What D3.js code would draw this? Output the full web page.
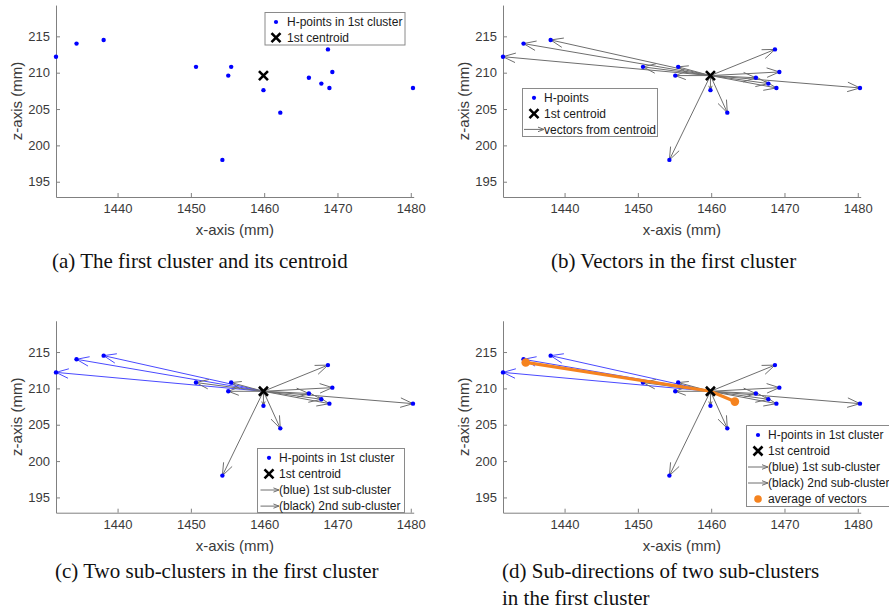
<!DOCTYPE html>
<html><head><meta charset="utf-8">
<script src="https://cdn.jsdelivr.net/npm/d3@7"></script>
<style>body{margin:0;background:#fff} svg{display:block}</style>
</head><body>
<svg id="c" width="889" height="611"></svg>
<script>
// ---------- data ----------
const xTicks = [1440, 1450, 1460, 1470, 1480];
const zTicks = [195, 200, 205, 210, 215];
const xDomain = [1431.6, 1480.4];
const zDomain = [192.9, 219.3];
const hX = [1431.6, 1434.4, 1438.1, 1450.7, 1455.5, 1455.1, 1459.9, 1462.2, 1454.3, 1466.1, 1467.8, 1468.7, 1469.3, 1468.9, 1480.3];
const hZ = [212.2, 214.0, 214.5, 210.8, 210.8, 209.6, 207.6, 204.5, 198.0, 209.3, 208.5, 213.2, 210.1, 207.9, 207.9];
const subCluster = [1, 1, 1, 2, 2, 2, 2, 2, 2, 2, 2, 2, 2, 2, 2];
const centroidX = [1459.9];
const centroidZ = [209.6];
const captionA = ["(a) The first cluster and its centroid"];
const captionB = ["(b) Vectors in the first cluster"];
const captionC = ["(c) Two sub-clusters in the first cluster"];
const captionD = ["(d) Sub-directions of two sub-clusters", "in the first cluster"];
const legendA = ["H-points in 1st cluster", "1st centroid"];
const legendB = ["H-points", "1st centroid", "vectors from centroid"];
const legendC = ["H-points in 1st cluster", "1st centroid", "(blue) 1st sub-cluster", "(black) 2nd sub-cluster"];
const legendD = ["H-points in 1st cluster", "1st centroid", "(blue) 1st sub-cluster", "(black) 2nd sub-cluster", "average of vectors"];

// ---------- style ----------
const SANS = "'Liberation Sans', Arial, Helvetica, sans-serif";
const SERIF = "'Liberation Serif', 'Times New Roman', serif";
const AXIS_C = "#808080", TEXT_C = "#3a3a3a";
const GRAY_V = "#6e6e6e", BLUE_V = "#4a4aff", DOT_C = "#0000ff", ORANGE = "#f5831f";

const svg = d3.select("#c");
svg.append("rect").attr("width", 889).attr("height", 611).attr("fill", "#fff");

const points = hX.map((x, i) => ({x, z: hZ[i], c: subCluster[i]}));
const centroid = {x: centroidX[0], z: centroidZ[0]};

function arrow(g, x1, y1, x2, y2, color, maxHead) {
  const dx = x2 - x1, dy = y2 - y1, len = Math.hypot(dx, dy);
  if (len < 0.5) return;
  const ux = dx / len, uy = dy / len;
  const h = Math.min(maxHead, 0.3 * len), w = h * 0.38;
  g.append("line").attr("x1", x1).attr("y1", y1).attr("x2", x2).attr("y2", y2)
    .attr("stroke", color).attr("stroke-width", 1);
  const bx = x2 - h * ux, by = y2 - h * uy;
  g.append("path")
    .attr("d", `M${bx - w * uy},${by + w * ux}L${x2},${y2}L${bx + w * uy},${by - w * ux}`)
    .attr("fill", "none").attr("stroke", color).attr("stroke-width", 1);
}

function cross(g, cx, cy, s, sw) {
  g.append("path").attr("d", `M${cx - s},${cy - s}L${cx + s},${cy + s}M${cx - s},${cy + s}L${cx + s},${cy - s}`)
    .attr("stroke", "#000").attr("stroke-width", sw).attr("fill", "none");
}

function panel(cfg) {
  const {left, bottom, mode} = cfg;
  const kx = 7.33, ky = 7.27;
  const x = d3.scaleLinear().domain(xDomain).range([left, left + (xDomain[1] - xDomain[0]) * kx]);
  const y = d3.scaleLinear().domain(zDomain).range([bottom, bottom - (zDomain[1] - zDomain[0]) * ky]);
  const g = svg.append("g");

  // axes
  const gx = g.append("g").attr("transform", `translate(0,${bottom})`)
    .call(d3.axisBottom(x).tickValues(xTicks).tickSize(-4).tickSizeOuter(0).tickPadding(7).tickFormat(d3.format("d")));
  const gy = g.append("g").attr("transform", `translate(${left},0)`)
    .call(d3.axisLeft(y).tickValues(zTicks).tickSize(-4).tickSizeOuter(0).tickPadding(6).tickFormat(d3.format("d")));
  [gx, gy].forEach(a => {
    a.select(".domain").attr("stroke", AXIS_C);
    a.selectAll(".tick line").attr("stroke", AXIS_C);
    a.selectAll(".tick text").attr("fill", TEXT_C).style("font-family", SANS).style("font-size", "13px");
  });
  const [x0, x1] = x.range(), [y0, y1] = y.range();
  g.append("text").attr("x", (x0 + x1) / 2).attr("y", bottom + 38).attr("text-anchor", "middle")
    .attr("fill", TEXT_C).style("font-family", SANS).style("font-size", "15px").text("x-axis (mm)");
  g.append("text").attr("transform", `translate(${left - 34},${(y0 + y1) / 2}) rotate(-90)`).attr("text-anchor", "middle")
    .attr("fill", TEXT_C).style("font-family", SANS).style("font-size", "15px").text("z-axis (mm)");

  const cx = x(centroid.x), cy = y(centroid.z);
  // vectors
  if (mode !== "a") {
    const vg = g.append("g");
    points.forEach(p => {
      const col = (mode === "c" || mode === "d") && p.c === 1 ? BLUE_V : GRAY_V;
      arrow(vg, cx, cy, x(p.x), y(p.z), col, 12.5);
    });
  }
  // points
  g.append("g").selectAll("circle").data(points).join("circle")
    .attr("cx", d => x(d.x)).attr("cy", d => y(d.z)).attr("r", 2.2).attr("fill", DOT_C);
  // averages
  if (mode === "d") {
    const avgs = [1, 2].map(k => {
      const sub = points.filter(p => p.c === k);
      return {x: d3.mean(sub, p => p.x), z: d3.mean(sub, p => p.z)};
    });
    const og = g.append("g");
    og.append("path").attr("d", d3.line().x(d => x(d.x)).y(d => y(d.z))([avgs[0], centroid, avgs[1]]))
      .attr("stroke", ORANGE).attr("stroke-width", 3.2).attr("fill", "none").attr("stroke-linejoin", "round");
    og.selectAll("circle").data(avgs).join("circle")
      .attr("cx", d => x(d.x)).attr("cy", d => y(d.z)).attr("r", 4.3).attr("fill", ORANGE);
  }
  cross(g, cx, cy, 4.5, 2.6);

  // legend
  const L = cfg.legend;
  const lg = g.append("g");
  lg.append("rect").attr("x", L.x).attr("y", L.y).attr("width", L.w).attr("height", L.h)
    .attr("fill", "#fff").attr("stroke", "#8a8a8a").attr("stroke-width", 1);
  L.items.forEach((txt, i) => {
    const ey = L.y + L.first + i * L.step;
    const kind = L.kinds[i];
    if (kind === "dot") lg.append("circle").attr("cx", L.mx).attr("cy", ey).attr("r", 2.1).attr("fill", DOT_C);
    if (kind === "x") cross(lg, L.mx, ey, 4.5, 2.6);
    if (kind === "arrow") arrow(lg, L.ax0, ey, L.ax1, ey, GRAY_V, 6);
    if (kind === "odot") lg.append("circle").attr("cx", L.mx).attr("cy", ey).attr("r", 3.8).attr("fill", ORANGE);
    lg.append("text").attr("x", L.tx).attr("y", ey).attr("dy", "0.35em").attr("fill", "#1a1a1a")
      .style("font-family", SANS).style("font-size", "12px").text(txt);
  });

  // caption
  cfg.caption.forEach((t, i) => {
    svg.append("text").attr("x", cfg.capX).attr("y", cfg.capY + i * 27).attr("fill", "#111")
      .style("font-family", SERIF).style("font-size", "21px").text(t);
  });
}

panel({left: 56, bottom: 197, mode: "a", capX: 52, capY: 268, caption: captionA,
  legend: {x: 265, y: 12.5, w: 140, h: 32.5, first: 9.5, step: 15.7, mx: 276, tx: 287, items: legendA, kinds: ["dot", "x"]}});
panel({left: 503, bottom: 197, mode: "b", capX: 551, capY: 268, caption: captionB,
  legend: {x: 522.5, y: 88.5, w: 135, h: 48, first: 9.3, step: 15.8, mx: 534, tx: 544, ax0: 524, ax1: 544, items: legendB, kinds: ["dot", "x", "arrow"]}});
panel({left: 56, bottom: 512.7, mode: "c", capX: 55, capY: 578, caption: captionC,
  legend: {x: 257.5, y: 448.5, w: 147, h: 64, first: 9.3, step: 16.1, mx: 269, tx: 279, ax0: 260.5, ax1: 279, items: legendC, kinds: ["dot", "x", "arrow", "arrow"]}});
panel({left: 503, bottom: 512.7, mode: "d", capX: 502, capY: 578, caption: captionD,
  legend: {x: 746.5, y: 425.5, w: 160, h: 81, first: 9.5, step: 16, mx: 758, tx: 768, ax0: 748, ax1: 768, items: legendD, kinds: ["dot", "x", "arrow", "arrow", "odot"]}});
</script>
</body></html>
